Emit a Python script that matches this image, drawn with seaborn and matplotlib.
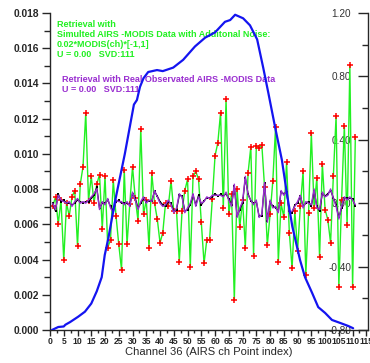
import numpy as np
import pandas as pd
import matplotlib
matplotlib.use('Agg')
import matplotlib.pyplot as plt
import seaborn as sns
from matplotlib.ticker import MultipleLocator, FormatStrFormatter

# ---------------- data ----------------
channels = list(range(1, 112))

# weighting function (left axis)
weight_x = [0.7, 3, 5, 5.6, 7.3, 10.2, 12.7, 15, 17, 18.8, 19.9, 21.2, 23.5, 27.2, 30.5,
            31.6, 32.7, 34, 35.7, 38.9, 41, 44.8, 48.4, 52.7, 56.4, 60, 63.6, 65.5, 67.3,
            70.2, 72.7, 75.3, 77.5, 79.4, 81.8, 84.3, 86.1, 88.1, 90.9, 92.7, 95.3, 97.5,
            100, 102.5, 105.5, 108.4, 110.2]
weight_v = [0.0, 0.00017, 0.0002, 0.0003, 0.00045, 0.00075, 0.00104, 0.0015, 0.0022,
            0.0030, 0.00426, 0.0052, 0.0072, 0.0100, 0.0128, 0.01306, 0.0138, 0.0143,
            0.01465, 0.01476, 0.0147, 0.0149, 0.01534, 0.0161, 0.0166, 0.0169, 0.0175,
            0.0176, 0.0179, 0.0177, 0.0173, 0.0165, 0.0149, 0.01344, 0.01154, 0.00965,
            0.00776, 0.00587, 0.00397, 0.0030, 0.0021, 0.0013, 0.00097, 0.00057, 0.0004,
            0.00023, 0.0001]

# simulated retrieval with noise (right axis)
sim_noise = [-0.02, 0.04, -0.13, 0.02, -0.36, 0.00, -0.08, 0.04, 0.08, -0.27,
             0.12, 0.23, 0.57, 0.015, 0.17, 0.00, 0.12, 0.18, -0.16, 0.17,
             -0.28, -0.23, 0.145, -0.08, -0.26, -0.42, 0.21, -0.26, -0.006, 0.23,
             0.03, -0.11, 0.47, -0.07, 0.02, -0.28, 0.19, 0.00, -0.10, -0.25,
             -0.185, 0.00, -0.02, 0.14, -0.05, -0.05, -0.37, -0.05, 0.08, 0.15,
             -0.40, 0.17, 0.20, 0.15, -0.12, -0.38, -0.23, -0.23, 0.025, 0.30,
             0.38, 0.57, -0.03, 0.66, -0.07, 0.06, -0.61, 0.09, -0.15, 0.02,
             -0.28, 0.19, 0.355, -0.33, 0.36, 0.35, 0.37, 0.10, -0.265, -0.07,
             0.14, 0.48, -0.37, 0.00, -0.09, 0.26, -0.185, -0.41, -0.05, -0.30,
             -0.02, 0.20, -0.45, -0.06, 0.44, -0.03, 0.16, -0.34, 0.25, -0.04,
             -0.105, -0.25, 0.17, 0.55, -0.53, 0.02, 0.49, -0.14, 0.87, -0.53,
             0.42]

# real observed retrieval (right axis)
real_black = [0.00, -0.05, 0.06, 0.01, 0.02, 0.00, 0.00, -0.01, 0.00, 0.02,
              0.01, 0.00, 0.01, 0.01, 0.03, 0.05, 0.10, -0.03, 0.00, 0.00,
              0.02, -0.02, -0.05, 0.01, 0.02, 0.00, 0.00, 0.00, -0.01, 0.06,
              0.03, -0.03, 0.00, 0.03, 0.01, 0.015, 0.015, 0.075, 0.045, 0.01,
              -0.01, -0.02, 0.01, 0.00, -0.05, -0.04, 0.05, 0.045, -0.05, -0.04,
              -0.01, 0.05, -0.01, 0.05, -0.01, 0.015, 0.035, 0.035, 0.04, 0.06,
              0.045, 0.055, 0.045, 0.06, 0.025, -0.01, 0.11, -0.08, -0.04, 0.00,
              0.16, 0.06, 0.015, 0.00, 0.01, -0.08, -0.08, 0.125, -0.11, 0.01,
              -0.02, -0.03, -0.05, 0.07, 0.06, 0.07, -0.05, -0.06, -0.01, 0.00,
              0.045, -0.02, 0.00, 0.01, -0.02, 0.08, -0.02, -0.05, 0.06, 0.045,
              0.06, 0.08, 0.035, -0.01, -0.09, -0.03, 0.035, 0.03, 0.035, 0.025,
              -0.02]
real_purple = [0.00, -0.04, 0.05, 0.02, 0.01, 0.00, 0.01, -0.02, 0.01, 0.03,
               0.00, 0.01, 0.00, 0.02, 0.04, 0.06, 0.09, -0.04, 0.01, -0.01,
               0.03, -0.03, -0.06, 0.02, 0.01, 0.01, -0.01, 0.01, -0.02, 0.07,
               0.02, -0.04, 0.01, 0.04, 0.00, 0.02, 0.01, 0.08, 0.04, 0.00,
               -0.02, -0.01, 0.02, -0.01, -0.06, -0.03, 0.06, 0.04, -0.06, -0.03,
               0.00, 0.06, -0.02, 0.04, 0.00, 0.01, 0.04, 0.03, 0.05, 0.05,
               0.05, 0.05, 0.04, 0.07, 0.02, -0.02, 0.12, -0.09, -0.03, 0.01,
               0.17, 0.05, 0.02, -0.01, 0.02, -0.09, -0.07, 0.13, -0.12, 0.02,
               -0.03, -0.02, -0.06, 0.08, 0.05, 0.08, -0.06, -0.05, -0.02, 0.01,
               0.05, -0.03, 0.01, 0.00, -0.01, 0.09, -0.03, -0.04, 0.07, 0.04,
               0.05, 0.09, 0.03, -0.02, -0.10, -0.02, 0.04, 0.02, 0.04, 0.02,
               -0.01]

left_ticks = [0.000, 0.002, 0.004, 0.006, 0.008, 0.010, 0.012, 0.014, 0.016, 0.018]
right_ticks = [-0.80, -0.40, 0.00, 0.40, 0.80, 1.20]
x_ticks = list(range(0, 120, 5))

green_text = "Retrieval with\nSimulted AIRS -MODIS Data with Additonal Noise:\n0.02*MODIS(ch)*[-1,1]\nU = 0.00   SVD:111"
purple_text = "Retrieval with Real Observated AIRS -MODIS Data\nU = 0.00   SVD:111"
x_label = "Channel 36 (AIRS ch Point index)"

# ---------------- plot ----------------
sns.set_style("ticks")
plt.rcParams['font.family'] = ['Liberation Sans', 'DejaVu Sans']

fig = plt.figure(figsize=(3.70, 3.63), dpi=100)
ax = fig.add_axes([50/370, 1 - 330/363, 318/370, 317/363])
ax2 = ax.twinx()

GREEN = '#22f022'
PURPLE = '#9a2fd0'
BLUE = '#1414f0'

df_sim = pd.DataFrame({'ch': channels, 'v': sim_noise})
df_blk = pd.DataFrame({'ch': channels, 'v': real_black})
df_pur = pd.DataFrame({'ch': channels, 'v': real_purple})
df_w = pd.DataFrame({'ch': weight_x, 'v': weight_v})

sns.lineplot(data=df_sim, x='ch', y='v', ax=ax2, color=GREEN, lw=1.0,
             marker='+', markersize=4, markeredgecolor='red', markeredgewidth=1.1,
             estimator=None, sort=False, zorder=2)
sns.lineplot(data=df_blk, x='ch', y='v', ax=ax2, color='black', lw=0.9,
             marker='s', markersize=1.6, markeredgewidth=0, estimator=None, sort=False, zorder=3)
sns.lineplot(data=df_pur, x='ch', y='v', ax=ax2, color=PURPLE, lw=1.0,
             estimator=None, sort=False, zorder=4)

sns.lineplot(data=df_w, x='ch', y='v', ax=ax, color=BLUE, lw=1.6,
             estimator=None, sort=False, zorder=5)

ax.set_zorder(ax2.get_zorder() + 1)
ax.patch.set_visible(False)

ax.set_xlim(0, 115.6)
ax.set_ylim(0, 0.018)
ax2.set_ylim(-0.8, 1.2)

ax.set_xticks(x_ticks)
ax.set_xticklabels([str(t) for t in x_ticks])
ax.xaxis.set_minor_locator(MultipleLocator(2.5))
ax.set_yticks(left_ticks)
ax.yaxis.set_major_formatter(FormatStrFormatter('%.3f'))
ax.yaxis.set_minor_locator(MultipleLocator(0.001))
ax2.set_yticks(right_ticks)
ax2.yaxis.set_major_formatter(FormatStrFormatter('%.2f'))
ax2.yaxis.set_minor_locator(MultipleLocator(0.2))

for a in (ax, ax2):
    a.spines['top'].set_visible(False)
    a.set_xlabel('')
    a.set_ylabel('')
ax.spines['right'].set_visible(False)
ax2.spines['left'].set_visible(False)
ax2.spines['bottom'].set_visible(False)
for sp in ['left', 'bottom']:
    ax.spines[sp].set_linewidth(1.0)
ax2.spines['right'].set_linewidth(1.0)

ax.tick_params(axis='y', which='major', direction='out', length=6, width=1, labelsize=7.4, pad=2)
ax.tick_params(axis='y', which='minor', direction='out', length=4, width=1)
ax.tick_params(axis='x', which='major', direction='out', length=4, width=1, labelsize=6.2, pad=1)
ax.tick_params(axis='x', which='minor', direction='out', length=2.5, width=1)
for lbl in ax.get_xticklabels() + ax.get_yticklabels():
    lbl.set_fontweight('bold')

ax2.tick_params(axis='y', which='major', direction='in', length=7, width=1, labelsize=7.2,
                pad=-12, labelcolor='#333333')
ax2.tick_params(axis='y', which='minor', direction='in', length=4, width=1)
for lbl in ax2.get_yticklabels():
    lbl.set_horizontalalignment('right')

ax.set_xlabel(x_label, fontsize=8, labelpad=1)

ax.text(7 / 318, 1 - 7 / 317, green_text, transform=ax.transAxes, color=GREEN,
        fontsize=6.5, fontweight='bold', va='top', ha='left', linespacing=1.15)
ax.text(12 / 318, 1 - 62 / 317, purple_text, transform=ax.transAxes, color=PURPLE,
        fontsize=6.5, fontweight='bold', va='top', ha='left', linespacing=1.15)

fig.savefig('out.png', dpi=100)
